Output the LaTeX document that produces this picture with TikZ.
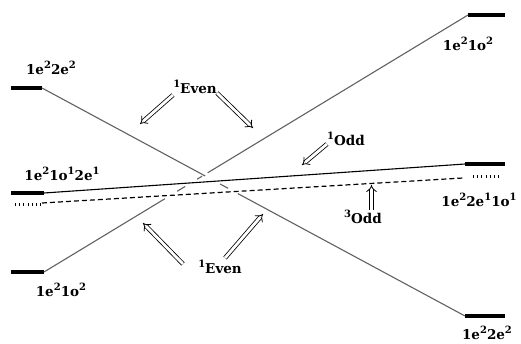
\documentclass[tikz,border=0pt]{standalone}
\usepackage{fontspec}
\setmainfont{DejaVu Serif}
\usetikzlibrary{arrows.meta,calc}
\newcommand\su[1]{\raisebox{0.42em}{\fontsize{10}{10}\selectfont #1}}
\begin{document}
\begin{tikzpicture}[x=1pt,y=-1pt,
  lbl/.style={font=\bfseries\fontsize{13.5}{15}\selectfont, inner sep=0pt},
  bar/.style={line width=4.6pt},
  diab/.style={draw=black!62, line width=1.1pt},
  dbl/.style={double, double distance=2.8pt, line width=0.8pt, -{Implies}},
  ticks/.style={line width=3pt, dash pattern=on 1pt off 3.2pt},
]
\useasboundingbox (0,0) rectangle (521,343);
% level ends
\coordinate (L1a) at (11,88);   \coordinate (L1b) at (42,88);
\coordinate (L2a) at (11,193);  \coordinate (L2b) at (44,193);
\coordinate (L3a) at (11,272);  \coordinate (L3b) at (44,272);
\coordinate (R1a) at (468,15);  \coordinate (R1b) at (505,15);
\coordinate (R2a) at (465,164); \coordinate (R2b) at (505,164);
\coordinate (R3a) at (465,316); \coordinate (R3b) at (505,316);
\coordinate (D1) at (42,203);   \coordinate (D2) at (463,178);
\coordinate (T1a) at (15,204);  \coordinate (T1b) at (41,204);
\coordinate (T2a) at (473,176); \coordinate (T2b) at (500,176);
% bars
\draw[bar] (L1a) -- (L1b);
\draw[bar] (L2a) -- (L2b);
\draw[bar] (L3a) -- (L3b);
\draw[bar] (R1a) -- (R1b);
\draw[bar] (R2a) -- (R2b);
\draw[bar] (R3a) -- (R3b);
% diabatic crossing lines
\draw[diab] (L1b) -- ($(L1b)!0.386!(R3a)$);
\draw[diab] ($(L1b)!0.421!(R3a)$) -- ($(L1b)!0.440!(R3a)$);
\draw[diab] ($(L1b)!0.463!(R3a)$) -- (R3a);
\draw[diab] (L3b) -- ($(L3b)!0.285!(R1a)$);
\draw[diab] ($(L3b)!0.314!(R1a)$) -- ($(L3b)!0.333!(R1a)$);
\draw[diab] ($(L3b)!0.361!(R1a)$) -- ($(L3b)!0.373!(R1a)$);
\draw[diab] ($(L3b)!0.386!(R1a)$) -- (R1a);
% singlet / triplet odd
\draw[line width=1.1pt] (L2b) -- (R2a);
\draw[line width=1.2pt, dash pattern=on 5pt off 3pt] (D1) -- (D2);
\draw[ticks] (T1a) -- (T1b);
\draw[ticks] (T2a) -- (T2b);
% labels
\node[lbl] (l1) at (51,68) {1e\su{2}2e\su{2}};
\node[lbl] (l2) at (62,174) {1e\su{2}1o\su{1}2e\su{1}};
\node[lbl] (l3) at (61,290) {1e\su{2}1o\su{2}};
\node[lbl] (r1) at (468,44) {1e\su{2}1o\su{2}};
\node[lbl] (r2) at (479,200) {1e\su{2}2e\su{1}1o\su{1}};
\node[lbl] (r3) at (487,333) {1e\su{2}2e\su{2}};
\node[lbl] (ev1) at (195,87) {\su{1}Even};
\node[lbl] (ev2) at (220,267) {\su{1}Even};
\node[lbl] (od1) at (346,139) {\su{1}Odd};
\node[lbl] (od3) at (363,217) {\su{3}Odd};
% arrows
\coordinate (a1) at (140,124); \coordinate (a2) at (253,128);
\coordinate (a3) at (143,223); \coordinate (a4) at (263,214);
\coordinate (a5) at (302,165); \coordinate (a6) at (371.5,185);
\draw[dbl] (173,95) -- (a1);
\draw[dbl] (217,93) -- (a2);
\draw[dbl] (183,264) -- (a3);
\draw[dbl] (225,258) -- (a4);
\draw[dbl] (327,144) -- (a5);
\draw[dbl] (371.5,210) -- (a6);
\end{tikzpicture}
\end{document}
